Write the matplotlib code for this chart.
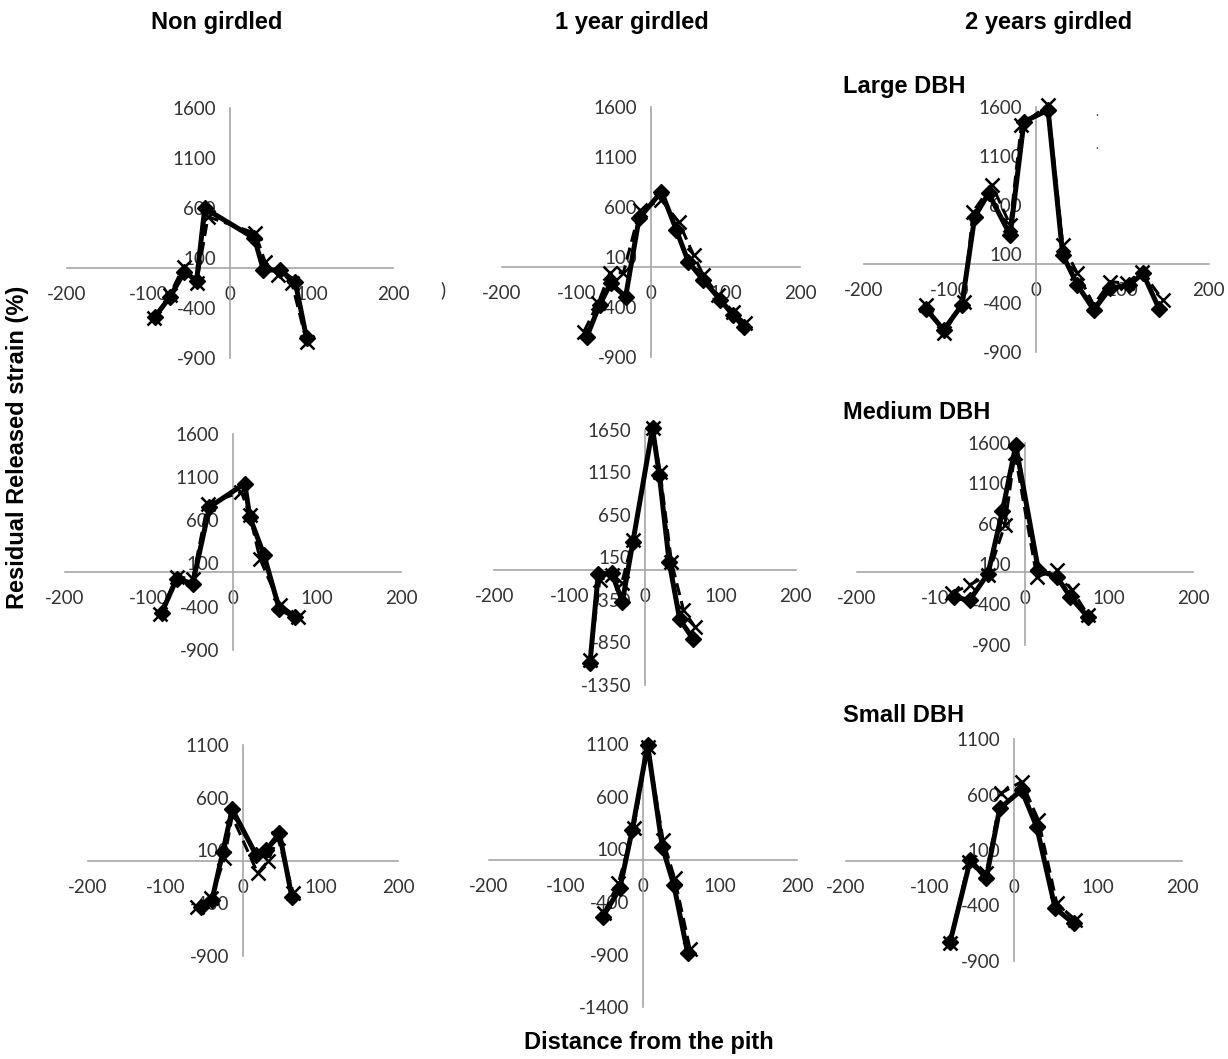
import matplotlib.pyplot as plt

plt.rcParams['font.family'] = ['Lato', 'DejaVu Sans']
plt.rcParams['axes.unicode_minus'] = False

# released strain against distance from the pith, two series per tree
non_large_x = [-92, -74, -56, -41, -31, 30, 41, 61, 80, 94]
non_large_y = [-487, -293, -37, -127, 597, 297, -20, -20, -137, -703]
non_large_x2 = [-93, -74, -57, -41, -27, 31, 43, 59, 76, 94]
non_large_y2 = [-500, -270, 13, -153, 513, 347, 63, -70, -153, -737]

one_large_x = [-86, -69, -54, -34, -16, 14, 34, 50, 70, 93, 110, 125]
one_large_y = [-697, -380, -163, -297, 487, 753, 370, 53, -130, -330, -480, -603]
one_large_x2 = [-90, -71, -55, -37, -15, 14, 37, 57, 70, 90, 110, 126]
one_large_y2 = [-647, -363, -57, -57, 570, 670, 453, 120, -80, -280, -447, -563]

two_large_x = [-127, -107, -86, -71, -55, -30, -14, 14, 31, 48, 67, 86, 108, 124, 143]
two_large_y = [-463, -673, -418, 483, 721, 296, 1452, 1571, 92, -214, -469, -248, -214, -95, -463]
two_large_x2 = [-127, -107, -84, -73, -51, -30, -17, 14, 31, 48, 67, 86, 105, 123, 147]
two_large_y2 = [-418, -707, -384, 534, 806, 398, 1418, 1622, 194, -95, -418, -180, -197, -78, -367]

non_medium_x = [-85, -67, -48, -28, 14, 20, 37, 55, 74]
non_medium_y = [-474, -77, -134, 751, 1022, 636, 193, -424, -520]
non_medium_x2 = [-87, -67, -48, -30, 10, 20, 32, 56, 77]
non_medium_y2 = [-481, -58, -77, 791, 925, 655, 155, -385, -520]

one_medium_x = [-73, -62, -44, -30, -16, 10, 19, 32, 46, 64]
one_medium_y = [-1098, -47, -39, -373, 333, 1667, 1118, 98, -580, -815]
one_medium_x2 = [-73, -60, -44, -31, -16, 10, 20, 35, 51, 66]
one_medium_y2 = [-1059, -118, -59, -157, 353, 1667, 1157, 98, -471, -667]

two_medium_x = [-85, -66, -44, -27, -11, 16, 38, 54, 75]
two_medium_y = [-310, -350, -20, 750, 1570, 20, -60, -310, -560]
two_medium_x2 = [-87, -66, -44, -24, -12, 14, 38, 56, 75]
two_medium_y2 = [-264, -161, -37, 583, 1470, -58, 25, -223, -533]

non_small_x = [-54, -40, -26, -14, 17, 30, 47, 63]
non_small_y = [-432, -369, 88, 489, 57, 104, 261, -337]
non_small_x2 = [-60, -41, -24, -14, 19, 32, 45, 65]
non_small_y2 = [-432, -353, 25, 422, -117, -3, 218, -305]

one_small_x = [-52, -30, -14, 6, 25, 40, 58]
one_small_y = [-538, -269, 285, 1092, 126, -237, -886]
one_small_x2 = [-51, -32, -12, 6, 26, 41, 61]
one_small_y2 = [-505, -220, 302, 1076, 190, -174, -847]

two_small_x = [-76, -52, -33, -17, 9, 27, 49, 71]
two_small_y = [-729, 9, -157, 475, 640, 309, -427, -563]
two_small_x2 = [-76, -54, -33, -15, 9, 29, 51, 73]
two_small_y2 = [-743, -6, -111, 614, 716, 370, -382, -532]

yt_a = [-900, -400, 100, 600, 1100, 1600]
yt_b = [-1350, -850, -350, 150, 650, 1150, 1650]
yt_c = [-900, -400, 100, 600, 1100]
yt_d = [-1400, -900, -400, 100, 600, 1100]
xt = [-200, -100, 0, 100, 200]

col_titles = ['Non girdled', '1 year girdled', '2 years girdled']
row_titles = ['Large DBH', 'Medium DBH', 'Small DBH']

W, H = 1228, 1059
fig = plt.figure(figsize=(W / 100, H / 100), dpi=100)

# (origin px x, px per unit x, origin px y, px per unit y, yticks, series)
panels = [
    (230, 0.815, 268, 0.100, yt_a, (non_large_x, non_large_y, non_large_x2, non_large_y2)),
    (651, 0.746, 267, 0.100, yt_a, (one_large_x, one_large_y, one_large_x2, one_large_y2)),
    (1036, 0.8625, 264, 0.098, yt_a, (two_large_x, two_large_y, two_large_x2, two_large_y2)),
    (233, 0.84, 572, 0.0865, yt_a, (non_medium_x, non_medium_y, non_medium_x2, non_medium_y2)),
    (645, 0.754, 570, 0.085, yt_b, (one_medium_x, one_medium_y, one_medium_x2, one_medium_y2)),
    (1025, 0.84, 572, 0.0807, yt_a, (two_medium_x, two_medium_y, two_medium_x2, two_medium_y2)),
    (243, 0.775, 861, 0.1058, yt_c, (non_small_x, non_small_y, non_small_x2, non_small_y2)),
    (643, 0.771, 860, 0.1053, yt_d, (one_small_x, one_small_y, one_small_x2, one_small_y2)),
    (1014, 0.84, 861, 0.1108, yt_c, (two_small_x, two_small_y, two_small_x2, two_small_y2)),
]

for x0, sx, y0, sy, yt, (xa, ya, xb, yb) in panels:
    ymin, ymax = yt[0], yt[-1]
    left = (x0 - 200 * sx) / W
    width = 400 * sx / W
    bottom = 1 - (y0 - sy * ymin) / H
    height = sy * (ymax - ymin) / H
    ax = fig.add_axes([left, bottom, width, height])
    ax.patch.set_alpha(0)
    ax.set_xlim(-200, 200)
    ax.set_ylim(ymin, ymax)
    ax.set_xticks(xt)
    ax.set_yticks(yt)
    for s in ['top', 'right']:
        ax.spines[s].set_visible(False)
    for s in ['left', 'bottom']:
        ax.spines[s].set_position(('data', 0))
        ax.spines[s].set_color('#a6a6a6')
        ax.spines[s].set_linewidth(1.2)
    ax.tick_params(length=0, labelsize=13.5, labelcolor='#333333')
    ax.tick_params(axis='x', pad=13)
    ax.tick_params(axis='y', pad=10)
    ax.plot(xa, ya, color='black', lw=3.6, marker='D', ms=8, clip_on=False, zorder=3)
    ax.plot(xb, yb, color='black', lw=2.2, ls=(0, (4, 2)), marker='x', ms=10, mew=1.8,
            clip_on=False, zorder=4)

bold = dict(family=['Liberation Sans', 'DejaVu Sans'], fontweight='bold', fontsize=17)
for t, cx in zip(col_titles, [217, 632, 1049]):
    fig.text(cx / W, 1 - 22 / H, t, ha='center', va='center', **bold)
for t, cy in zip(row_titles, [87, 412, 715]):
    fig.text(843 / W, 1 - cy / H, t, ha='left', va='center', **bold)

fig.text(649 / W, 1 - 1043 / H, 'Distance from the pith', ha='center', va='center', **bold)
fig.text(18 / W, 1 - 447 / H, 'Residual Released strain (%)', ha='center', va='center',
         rotation=90, **bold)

# stray marks left over from the original legend boxes
fig.text(443 / W, 1 - 290 / H, ')', ha='center', va='center', fontsize=13.5, color='#333333')
fig.text(1097 / W, 1 - 112 / H, '.', ha='center', va='center', fontsize=9, color='#333333')
fig.text(1097 / W, 1 - 145 / H, '.', ha='center', va='center', fontsize=9, color='#333333')

fig.savefig('out.png', dpi=100)
